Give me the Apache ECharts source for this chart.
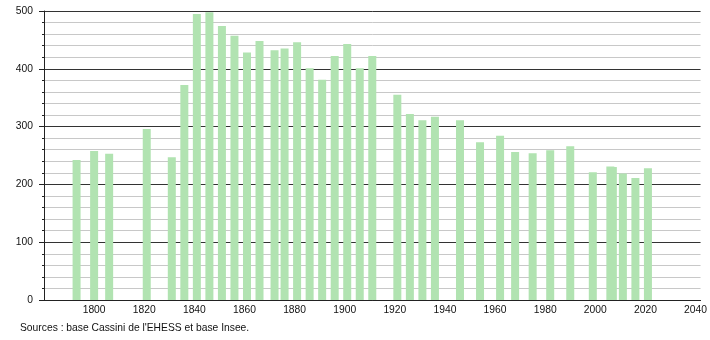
<!DOCTYPE html>
<html>
<head>
<meta charset="utf-8">
<script src="https://cdn.jsdelivr.net/npm/echarts@6/dist/echarts.min.js"></script>
<style>html,body{margin:0;padding:0;background:#fff}#c{width:710px;height:340px}</style>
</head>
<body>
<div id="c"></div>
<script>
const years = [1793,1800,1806,1821,1831,1836,1841,1846,1851,1856,1861,1866,1872,1876,1881,1886,1891,1896,1901,1906,1911,1921,1926,1931,1936,1946,1954,1962,1968,1975,1982,1990,1999,2006,2007,2011,2016,2021];
const population = [242,258,253,296,247,372,495,498,474,457,428,448,432,435,446,401,381,422,443,401,422,355,322,311,317,311,273,284,256,254,259,266,221,231,230,219,211,228];
const xTickLabels = [1800,1820,1840,1860,1880,1900,1920,1940,1960,1980,2000,2020,2040];
const yTickLabels = [0,100,200,300,400,500];
const sourceText = "Sources : base Cassini de l'EHESS et base Insee.";

const chart = echarts.init(document.getElementById('c'), null, {renderer: 'canvas'});
const font = 'Liberation Sans, Arial, sans-serif';
chart.setOption({
  animation: false,
  grid: {left: 44, right: 8, top: 11, bottom: 40, containLabel: false},
  xAxis: {
    type: 'value', min: 1780, max: 2042, interval: 20,
    axisLine: {show: true, lineStyle: {color: '#222', width: 1}},
    axisTick: {show: false},
    splitLine: {show: false},
    axisLabel: {
      margin: 5, color: '#111', fontFamily: font, fontSize: 10.3,
      showMinLabel: false, showMaxLabel: false,
      formatter: v => xTickLabels.includes(v) ? String(v) : ''
    }
  },
  yAxis: {
    type: 'value', min: 0, max: 500, interval: 100,
    axisLine: {show: true, lineStyle: {color: '#222', width: 1}},
    axisTick: {show: true, inside: false, length: 5, lineStyle: {color: '#222'}},
    minorTick: {show: true, splitNumber: 5, length: 2, lineStyle: {color: '#222'}},
    splitLine: {show: true, lineStyle: {color: '#333', width: 1}},
    minorSplitLine: {show: true, lineStyle: {color: '#c8c8c8', width: 1}},
    axisLabel: {
      margin: 11, color: '#111', fontFamily: font, fontSize: 10.3,
      formatter: v => yTickLabels.includes(v) ? String(v) : ''
    }
  },
  series: [{
    type: 'bar',
    barWidth: 8,
    itemStyle: {color: '#b1e3b1'},
    data: years.map((y, i) => [y, population[i]])
  }],
  graphic: [{
    type: 'text', left: 20, top: 323,
    style: {text: sourceText, font: '10.3px ' + font, fill: '#111'}
  }]
});
</script>
</body>
</html>
